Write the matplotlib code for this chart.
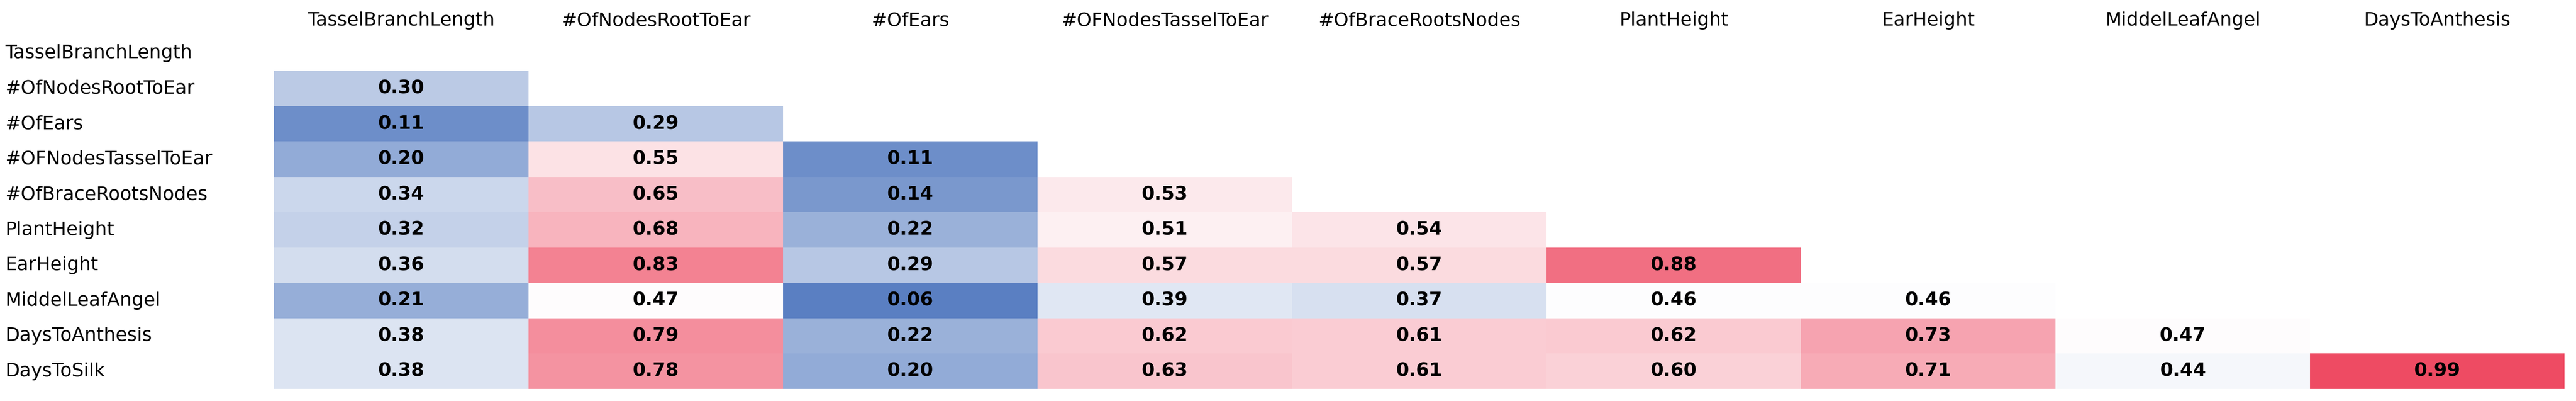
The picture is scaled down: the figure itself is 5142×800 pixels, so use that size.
import numpy as np
import matplotlib.pyplot as plt
from matplotlib.colors import LinearSegmentedColormap, TwoSlopeNorm

row_labels = ['TasselBranchLength', '#OfNodesRootToEar', '#OfEars', '#OFNodesTasselToEar',
              '#OfBraceRootsNodes', 'PlantHeight', 'EarHeight', 'MiddelLeafAngel',
              'DaysToAnthesis', 'DaysToSilk']
col_labels = row_labels[:-1]

# lower triangle, row i has i values
r_nodes_root = [0.30]
r_ears = [0.11, 0.29]
r_tassel_ear = [0.20, 0.55, 0.11]
r_brace = [0.34, 0.65, 0.14, 0.53]
r_plant = [0.32, 0.68, 0.22, 0.51, 0.54]
r_ear_h = [0.36, 0.83, 0.29, 0.57, 0.57, 0.88]
r_leaf = [0.21, 0.47, 0.06, 0.39, 0.37, 0.46, 0.46]
r_anthesis = [0.38, 0.79, 0.22, 0.62, 0.61, 0.62, 0.73, 0.47]
r_silk = [0.38, 0.78, 0.20, 0.63, 0.61, 0.60, 0.71, 0.44, 0.99]
rows = [[], r_nodes_root, r_ears, r_tassel_ear, r_brace, r_plant, r_ear_h,
        r_leaf, r_anthesis, r_silk]

n_r, n_c = len(row_labels), len(col_labels)
mat = np.full((n_r, n_c), np.nan)
for i, vals in enumerate(rows):
    mat[i, :len(vals)] = vals

plt.rcParams['font.family'] = ['Liberation Sans Narrow', 'DejaVu Sans']
cmap = LinearSegmentedColormap.from_list('bwr_xl', ['#5A7FC2', '#FFFFFF', '#EE4B63'])
norm = TwoSlopeNorm(vmin=0.06, vcenter=0.465, vmax=0.99)

W, H = 5142, 800
fig = plt.figure(figsize=(W / 100, H / 100), dpi=100)
x0, x1, y0, y1 = 547, 5119, 71, 776
ax = fig.add_axes([x0 / W, 1 - y1 / H, (x1 - x0) / W, (y1 - y0) / H])
ax.imshow(np.ma.masked_invalid(mat), cmap=cmap, norm=norm, aspect='auto',
          interpolation='nearest', extent=(-0.5, n_c - 0.5, n_r - 0.5, -0.5))
ax.set_xlim(-0.5, n_c - 0.5)
ax.set_ylim(n_r - 0.5, -0.5)
ax.axis('off')

for i in range(n_r):
    for j in range(n_c):
        if not np.isnan(mat[i, j]):
            ax.text(j, i, f'{mat[i, j]:.2f}', ha='center', va='center',
                    fontsize=27, fontweight='bold')
    ax.text(-0.5 - 537 / 508, i, row_labels[i], ha='left', va='center', fontsize=27)

for j, lab in enumerate(col_labels):
    ax.text(j, -0.5 - 30 / 70.5, lab, ha='center', va='center', fontsize=27)

fig.savefig('out.png', dpi=100)
